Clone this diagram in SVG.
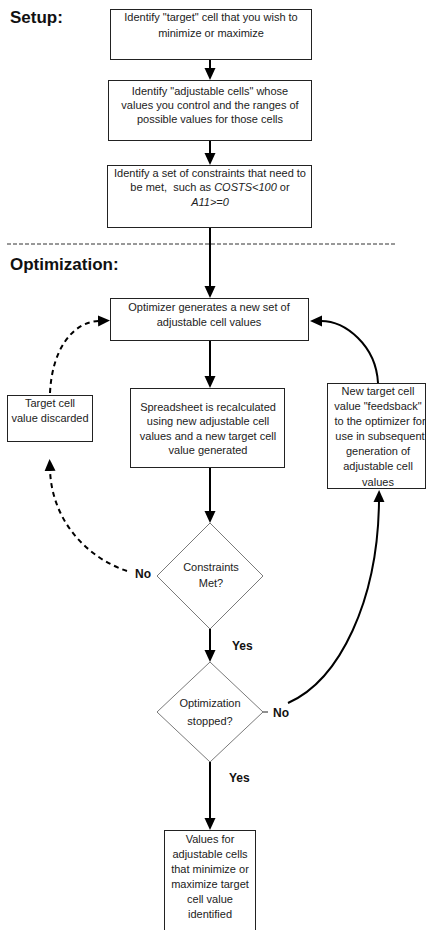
<svg xmlns="http://www.w3.org/2000/svg" width="427" height="930" viewBox="0 0 427 930">
  <style>
    .box { fill: #ffffff; stroke: #222222; stroke-width: 1; }
    .dia { fill: #ffffff; stroke: #7a7a7a; stroke-width: 1; }
    .t { font-family: "Liberation Sans", Arial, sans-serif; font-size: 11px; fill: #222222; text-anchor: middle; }
    .it { font-style: italic; }
    .hd { font-family: "Liberation Sans", Arial, sans-serif; font-size: 17px; font-weight: bold; fill: #111111; }
    .lbl { font-family: "Liberation Sans", Arial, sans-serif; font-size: 12px; font-weight: bold; fill: #111111; }
    .edge { fill: none; stroke: #000000; stroke-width: 2; marker-end: url(#arrow); }
    .dash { stroke-dasharray: 5 4; }
    .sep { stroke: #333333; stroke-width: 1; stroke-dasharray: 4 2; }
  </style>
  <defs>
    <marker id="arrow" viewBox="0 0 12 12" markerWidth="12" markerHeight="12" refX="1" refY="6" orient="auto" markerUnits="userSpaceOnUse">
      <path d="M0,0.5 L12,6 L0,11.5 z" fill="#000000"/>
    </marker>
  </defs>

  <rect width="427" height="930" fill="#ffffff"/>

  <!-- section headings and divider -->
  <text class="hd" x="10" y="23">Setup:</text>
  <line class="sep" x1="7" y1="244" x2="397" y2="244"/>
  <text class="hd" x="10" y="270">Optimization:</text>

  <!-- connectors -->
  <g id="connectors">
    <line class="edge" x1="210" y1="59" x2="210" y2="69"/>
    <line class="edge" x1="210" y1="140" x2="210" y2="154"/>
    <line class="edge" x1="210" y1="227" x2="210" y2="287"/>
    <line class="edge" x1="210" y1="340" x2="210" y2="377"/>
    <line class="edge" x1="210" y1="467" x2="210" y2="512"/>
    <line class="edge" x1="210" y1="629" x2="210" y2="651"/>
    <line class="edge" x1="210" y1="762" x2="210" y2="819"/>
    <!-- rejected: back to the discard box, then on to the optimizer -->
    <path class="edge dash" d="M127,571 C88,558 52,522 50,470"/>
    <path class="edge dash" d="M50,393 C52,350 72,322 99,321"/>
    <!-- not stopped: feedback loop to the optimizer -->
    <line x1="263" y1="712" x2="268" y2="712" stroke="#222222" stroke-width="1"/>
    <path class="edge" d="M288,703 C340,680 378,600 379,501"/>
    <path class="edge" d="M378,383 C376,345 345,321 321,321"/>
    <text class="lbl" x="135" y="578">No</text>
    <text class="lbl" x="232" y="650">Yes</text>
    <text class="lbl" x="273" y="717">No</text>
    <text class="lbl" x="229" y="782">Yes</text>
  </g>

  <g id="target">
    <rect class="box" x="110.5" y="9.5" width="201" height="50"/>
    <text class="t" x="211" y="21">Identify "target" cell that you wish to</text>
    <text class="t" x="211" y="37">minimize or maximize</text>
  </g>

  <g id="adjustable">
    <rect class="box" x="108.5" y="80.5" width="203" height="60"/>
    <text class="t" x="210" y="95">Identify "adjustable cells" whose</text>
    <text class="t" x="210" y="109">values you control and the ranges of</text>
    <text class="t" x="210" y="123">possible values for those cells</text>
  </g>

  <g id="constraints">
    <rect class="box" x="107.5" y="165.5" width="204" height="62"/>
    <text class="t" x="210" y="177">Identify a set of constraints that need to</text>
    <text class="t" x="210" y="191" style="white-space:pre">be met,  such as <tspan class="it">COSTS&lt;100</tspan> or</text>
    <text class="t it" x="210" y="206">A11&gt;=0</text>
  </g>

  <g id="optimizer">
    <rect class="box" x="110.5" y="298.5" width="198" height="42"/>
    <text class="t" x="209" y="311">Optimizer generates a new set of</text>
    <text class="t" x="209" y="326">adjustable cell values</text>
  </g>

  <g id="recalc">
    <rect class="box" x="130.5" y="388.5" width="154" height="79"/>
    <text class="t" x="208" y="411">Spreadsheet is recalculated</text>
    <text class="t" x="208" y="425">using new adjustable cell</text>
    <text class="t" x="208" y="440">values and a new target cell</text>
    <text class="t" x="208" y="454">value generated</text>
  </g>

  <g id="discard">
    <rect class="box" x="7.5" y="395.5" width="85" height="46"/>
    <text class="t" x="50" y="407">Target cell</text>
    <text class="t" x="50" y="422">value discarded</text>
  </g>

  <g id="feedback">
    <rect class="box" x="327.5" y="383.5" width="98" height="105"/>
    <text class="t" x="378" y="395">New target cell</text>
    <text class="t" x="378" y="410">value "feedsback"</text>
    <text class="t" x="380" y="425">to the optimizer for</text>
    <text class="t" x="380" y="440">use in subsequent</text>
    <text class="t" x="378" y="455">generation of</text>
    <text class="t" x="378" y="470">adjustable cell</text>
    <text class="t" x="378" y="486">values</text>
  </g>

  <g id="met">
    <polygon class="dia" points="210,523 263,576 210,629 157,576"/>
    <text class="t" x="211" y="571">Constraints</text>
    <text class="t" x="211" y="587">Met?</text>
  </g>

  <g id="stopped">
    <polygon class="dia" points="210,662 263,712 210,762 157,712"/>
    <text class="t" x="210" y="707">Optimization</text>
    <text class="t" x="210" y="725">stopped?</text>
  </g>

  <g id="result">
    <rect class="box" x="164.5" y="830.5" width="91" height="110"/>
    <text class="t" x="210" y="843">Values for</text>
    <text class="t" x="210" y="858">adjustable cells</text>
    <text class="t" x="210" y="873">that minimize or</text>
    <text class="t" x="210" y="888">maximize target</text>
    <text class="t" x="210" y="903">cell value</text>
    <text class="t" x="210" y="918">identified</text>
  </g>
</svg>
